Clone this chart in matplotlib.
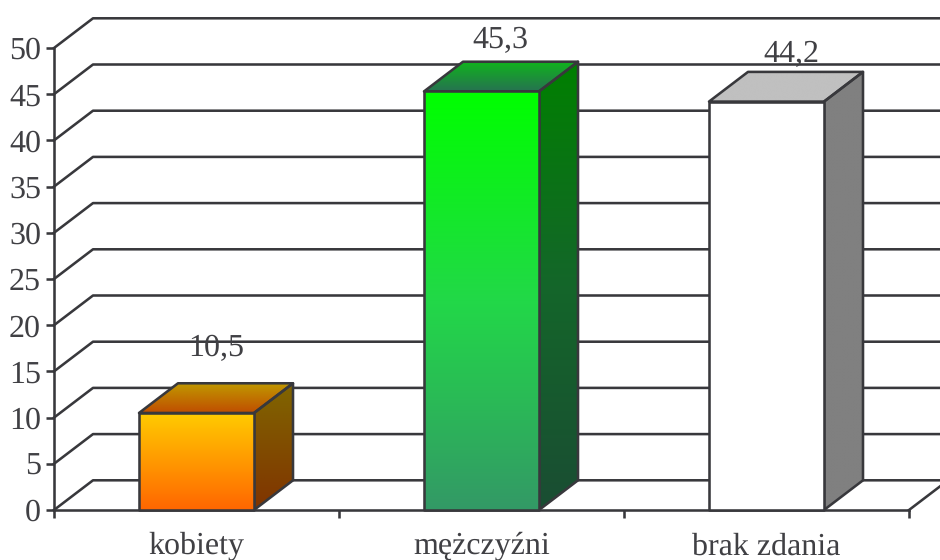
import matplotlib.pyplot as plt
import numpy as np
from matplotlib.colors import LinearSegmentedColormap
from matplotlib.patches import Polygon

categories = ["kobiety", "mężczyźni", "brak zdania"]
values = [10.5, 45.3, 44.2]
y_ticks = list(range(0, 55, 5))

# kolory ścian słupka, od góry do dołu
front_colors = [("#ffcc00", "#ff6600"), ("#00ff00", "#22d848", "#339966"), ("#ffffff", "#ffffff")]
side_colors = [("#806600", "#803300"), ("#008000", "#14662a", "#1a4d33"), ("#808080", "#808080")]
top_colors = [("#c09900", "#c04d00"), ("#10b51c", "#267350"), ("#c0c0c0", "#c0c0c0")]

# przesunięcia etykiet wartości w pikselach
label_dx = [0, -1, 5]
label_dy = [27, 14, 10]

INK = "#38383c"
TEXT = "#404044"
LW = 1.85
FONT = 23
BAR_W = 115 / 285
DEPTH_X = 39 / 285
DEPTH_Y = 29.7 / 9.24

plt.rcParams["font.family"] = ["Liberation Serif", "DejaVu Serif"]
plt.rcParams["text.hinting"] = "none"
plt.rcParams["text.hinting_factor"] = 1

fig = plt.figure(figsize=(9.4, 5.6), dpi=100)
ax = fig.add_axes([54 / 940, 50 / 560, 855 / 940, 462 / 560])


def gradient_face(ax, corners, colors, zorder):
    """Rysuje ścianę słupka z pionowym gradientem, przyciętą do wielokąta."""
    corners = np.array(corners)
    cmap = LinearSegmentedColormap.from_list("face", list(colors)[::-1])
    extent = [corners[:, 0].min(), corners[:, 0].max(), corners[:, 1].min(), corners[:, 1].max()]
    img = ax.imshow(
        np.linspace(1, 0, 256).reshape(-1, 1),
        cmap=cmap,
        vmin=0,
        vmax=1,
        extent=extent,
        origin="upper",
        aspect="auto",
        zorder=zorder,
        interpolation="bilinear",
    )
    img.set_clip_path(Polygon(corners, closed=True, transform=ax.transData))
    ax.add_patch(
        Polygon(
            corners,
            closed=True,
            fill=False,
            edgecolor=INK,
            linewidth=LW,
            joinstyle="round",
            zorder=zorder + 0.5,
            clip_on=False,
        )
    )


# linie siatki: ukos na lewej ścianie i pozioma na tylnej
for tick in y_ticks:
    ax.plot(
        [0, DEPTH_X, 3 + DEPTH_X],
        [tick, tick + DEPTH_Y, tick + DEPTH_Y],
        color=INK,
        linewidth=LW,
        clip_on=False,
        zorder=1,
    )
# prawa krawędź podłogi
ax.plot([3, 3 + DEPTH_X], [0, DEPTH_Y], color=INK, linewidth=LW, clip_on=False, zorder=1)

for i, value in enumerate(values):
    x0 = i + 0.5 - BAR_W / 2
    x1 = i + 0.5 + BAR_W / 2
    gradient_face(
        ax,
        [(x0, 0), (x1, 0), (x1, value), (x0, value)],
        front_colors[i],
        5,
    )
    gradient_face(
        ax,
        [(x1, 0), (x1 + DEPTH_X, DEPTH_Y), (x1 + DEPTH_X, value + DEPTH_Y), (x1, value)],
        side_colors[i],
        4,
    )
    gradient_face(
        ax,
        [(x0, value), (x1, value), (x1 + DEPTH_X, value + DEPTH_Y), (x0 + DEPTH_X, value + DEPTH_Y)],
        top_colors[i],
        4,
    )
    ax.annotate(
        f"{value:.1f}".replace(".", ","),
        xy=(i + 0.5 + DEPTH_X / 2, value + DEPTH_Y),
        xytext=(label_dx[i] * 0.72, label_dy[i] * 0.72),
        textcoords="offset points",
        ha="center",
        va="baseline",
        fontsize=FONT,
        color=TEXT,
        zorder=8,
        annotation_clip=False,
    )

ax.set_xlim(0, 3)
ax.set_ylim(0, 50)
ax.patch.set_visible(False)

for side in ["top", "right"]:
    ax.spines[side].set_visible(False)
for side in ["left", "bottom"]:
    ax.spines[side].set_color(INK)
    ax.spines[side].set_linewidth(LW)
    ax.spines[side].set_zorder(3)

ax.set_yticks(y_ticks)
ax.tick_params(axis="y", length=5.8, width=LW, color=INK, labelsize=FONT, labelcolor=TEXT, pad=3.5)
ax.set_xticks([0, 1, 2, 3])
ax.set_xticklabels([])
ax.set_xticks([i + 0.5 for i in range(len(categories))], categories, minor=True)
ax.tick_params(axis="x", which="major", length=5.8, width=LW, color=INK)
ax.tick_params(axis="x", which="minor", length=0, labelsize=FONT, labelcolor=TEXT, pad=16)

fig.savefig("out.png", dpi=100)
